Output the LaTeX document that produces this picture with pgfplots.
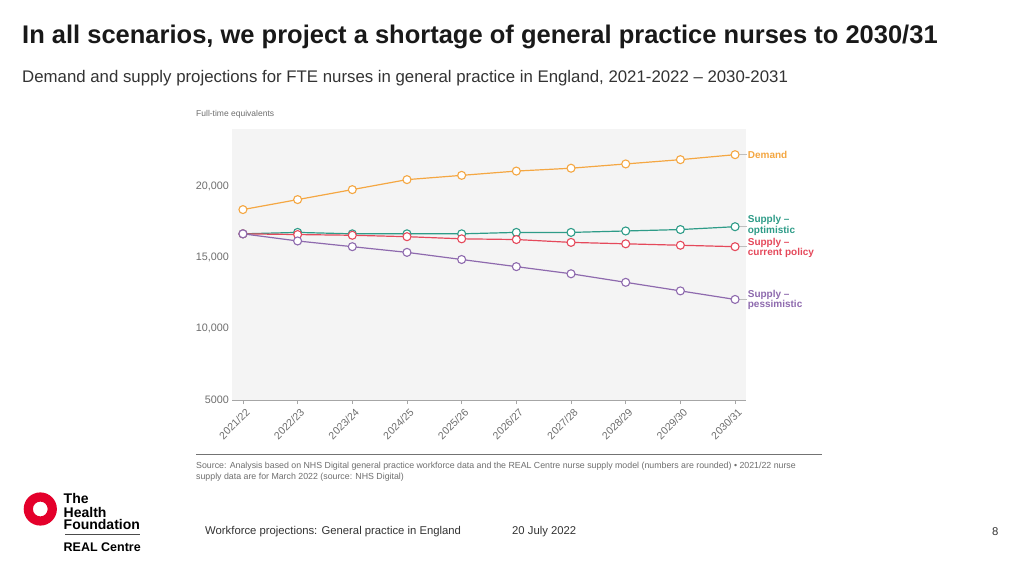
\documentclass[border=0pt]{standalone}
\usepackage{fontspec}
\setmainfont{Liberation Sans}
\usepackage{pgfplots}
\pgfplotsset{compat=1.18}
\definecolor{cdem}{HTML}{F4A742}
\definecolor{copt}{HTML}{2E9C88}
\definecolor{ccur}{HTML}{E5495B}
\definecolor{cpes}{HTML}{8E6AAE}
\definecolor{bgc}{HTML}{F4F4F4}
\definecolor{tgrey}{HTML}{6E6E6E}
\definecolor{hfred}{HTML}{E4002B}
\begin{document}
\begin{tikzpicture}[x=1pt,y=1pt]
\useasboundingbox (0,0) rectangle (1024,576);
\fill[white] (0,0) rectangle (1024,576);
% titles
\node[anchor=base west,inner sep=0,text=black!90] at (22,532.3) {\fontsize{25.5}{28}\selectfont\bfseries In all scenarios, we project a shortage of general practice nurses to 2030/31};
\node[anchor=base west,inner sep=0,text=black!80] at (22,493.3) {\fontsize{16.8}{18}\selectfont Demand and supply projections for FTE nurses in general practice in England, 2021-2022 -- 2030-2031};
\node[anchor=base west,inner sep=0,text=tgrey] at (196,459) {\fontsize{8.5}{10}\selectfont Full-time equivalents};
\begin{axis}[
  at={(232pt,176pt)}, anchor=south west,
  scale only axis, width=514pt, height=271pt,
  xmin=-0.2, xmax=9.2, ymin=5000, ymax=24000,
  scaled y ticks=false,
  axis background/.style={fill=bgc},
  axis x line*=bottom, axis y line*=left,
  x axis line style={draw=black!35, line width=0.8pt},
  y axis line style={draw=none},
  xtick={0,...,9},
  xticklabels={2021/22,2022/23,2023/24,2024/25,2025/26,2026/27,2027/28,2028/29,2029/30,2030/31},
  x tick label style={rotate=45, anchor=north east, font=\fontsize{10.5}{12}\selectfont, text=tgrey, inner sep=1pt, yshift=-3pt},
  ytick={5000,10000,15000,20000},
  yticklabels={5000,{10,000},{15,000},{20,000}},
  y tick label style={font=\fontsize{10.8}{13}\selectfont, text=tgrey, inner sep=1pt, xshift=2pt},
  ytick style={draw=none},
  xtick style={draw=black!35, line width=0.7pt},
  tick align=outside, major tick length=4pt,
  /pgf/number format/assume math mode=true,
  clip=false,
  every axis plot/.append style={line width=1.2pt, mark=*, mark size=4pt, mark options={fill=white, line width=1.1pt}},
]
\addplot[color=cdem] coordinates {(0,18350)(1,19050)(2,19750)(3,20450)(4,20750)(5,21050)(6,21250)(7,21550)(8,21850)(9,22200)};
\addplot[color=copt] coordinates {(0,16650)(1,16750)(2,16650)(3,16650)(4,16650)(5,16750)(6,16750)(7,16850)(8,16950)(9,17150)};
\addplot[color=ccur] coordinates {(0,16650)(1,16600)(2,16550)(3,16450)(4,16300)(5,16250)(6,16050)(7,15950)(8,15850)(9,15750)};
\addplot[color=cpes] coordinates {(0,16650)(1,16150)(2,15750)(3,15350)(4,14850)(5,14350)(6,13850)(7,13250)(8,12650)(9,12050)};
% leader lines and labels
\draw[black!25, line width=0.6pt] (axis cs:9.06,22200) -- (axis cs:9.22,22200);
\draw[black!25, line width=0.6pt] (axis cs:9.06,17150) -- (axis cs:9.22,17150);
\draw[black!25, line width=0.6pt] (axis cs:9.06,15750) -- (axis cs:9.22,15750);
\draw[black!25, line width=0.6pt] (axis cs:9.06,12050) -- (axis cs:9.22,12050);
\node[anchor=west, inner sep=0, text=cdem, font=\fontsize{10}{9}\selectfont\bfseries] at (axis cs:9.23,22200) {Demand};
\node[anchor=west, inner sep=0, text=copt, font=\fontsize{10}{9}\selectfont\bfseries, align=left] at (axis cs:9.23,17230) {Supply --\\optimistic};
\node[anchor=west, inner sep=0, text=ccur, font=\fontsize{10}{9}\selectfont\bfseries, align=left] at (axis cs:9.23,15680) {Supply --\\current policy};
\node[anchor=west, inner sep=0, text=cpes, font=\fontsize{10}{9}\selectfont\bfseries, align=left] at (axis cs:9.23,12010) {Supply --\\pessimistic};
\end{axis}
% source
\draw[black!55, line width=0.8pt] (196,122) -- (822,122);
\node[anchor=base west,inner sep=0,text=tgrey] at (196,108) {\fontsize{8.8}{10}\selectfont Source: Analysis based on NHS Digital general practice workforce data and the REAL Centre nurse supply model (numbers are rounded) \textbullet{} 2021/22 nurse};
\node[anchor=base west,inner sep=0,text=tgrey] at (196,97) {\fontsize{8.8}{10}\selectfont supply data are for March 2022 (source: NHS Digital)};
% logo
\fill[hfred, even odd rule] (40.3,67) circle (16.6) (40.3,67) circle (7.4);
\node[anchor=base west,inner sep=0] at (63.5,73) {\fontsize{14}{14}\selectfont\bfseries The};
\node[anchor=base west,inner sep=0] at (63.5,59) {\fontsize{14}{14}\selectfont\bfseries Health};
\node[anchor=base west,inner sep=0] at (63.5,47) {\fontsize{14}{14}\selectfont\bfseries Foundation};
\draw[black!70, line width=0.8pt] (65,41.7) -- (139.5,41.7);
\node[anchor=base west,inner sep=0] at (63.5,25) {\fontsize{12.5}{14}\selectfont\bfseries REAL Centre};
% footer
\node[anchor=base west,inner sep=0,text=black!80] at (205,42) {\fontsize{11.3}{13}\selectfont Workforce projections: General practice in England};
\node[anchor=base west,inner sep=0,text=black!80] at (512,42) {\fontsize{11.3}{13}\selectfont 20 July 2022};
\node[anchor=base west,inner sep=0,text=black!80] at (992,41) {\fontsize{11.3}{13}\selectfont 8};
\end{tikzpicture}
\end{document}
